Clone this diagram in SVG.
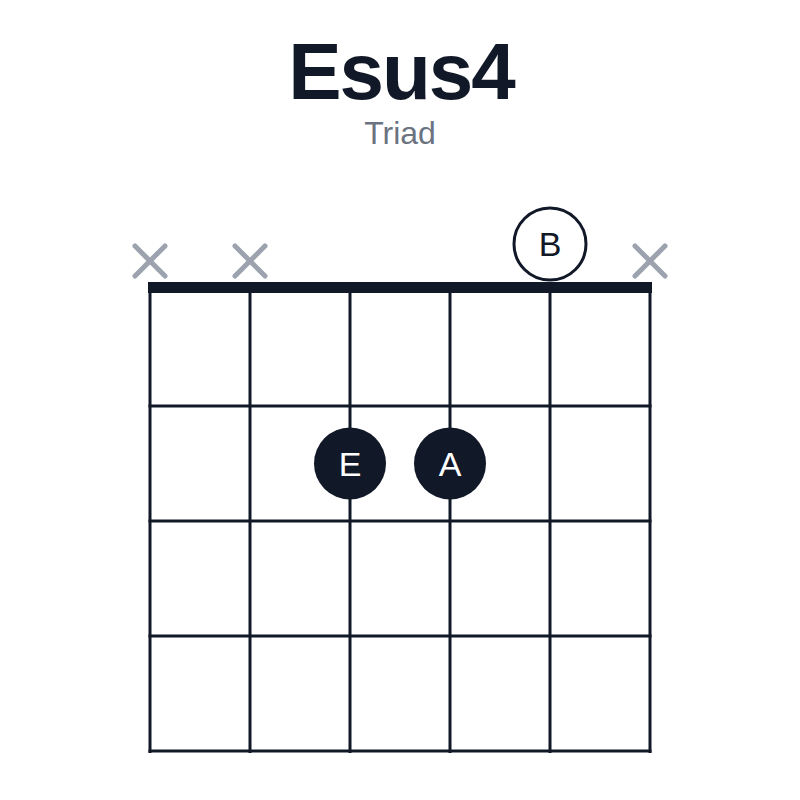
<svg xmlns="http://www.w3.org/2000/svg" width="800" height="800" viewBox="0 0 800 800">
<style>
.title{font-family:"Liberation Sans",Arial,sans-serif;font-weight:bold;font-size:80px;fill:#111827;letter-spacing:-2px}
.sub{font-family:"Liberation Sans",Arial,sans-serif;font-size:32px;fill:#6b7280}
.str{stroke:#111827;stroke-width:3}
.x{stroke:#9ca3af;stroke-width:5;stroke-linecap:round}
.lbl{font-family:"Liberation Sans",Arial,sans-serif;font-size:34px;text-anchor:middle}
</style>
<rect width="800" height="800" fill="#ffffff"/>
<text class="title" x="401" y="99" text-anchor="middle">Esus4</text>
<text class="sub" x="400" y="144" text-anchor="middle">Triad</text>
<g id="grid">
<rect x="148" y="282" width="504" height="11" fill="#111827"/>
<line class="str" x1="150" y1="287" x2="150" y2="753"/>
<line class="str" x1="250" y1="287" x2="250" y2="753"/>
<line class="str" x1="350" y1="287" x2="350" y2="753"/>
<line class="str" x1="450" y1="287" x2="450" y2="753"/>
<line class="str" x1="550" y1="287" x2="550" y2="753"/>
<line class="str" x1="650" y1="287" x2="650" y2="753"/>
<line class="str" x1="148.5" y1="406" x2="651.5" y2="406"/>
<line class="str" x1="148.5" y1="521" x2="651.5" y2="521"/>
<line class="str" x1="148.5" y1="636" x2="651.5" y2="636"/>
<line class="str" x1="148.5" y1="751" x2="651.5" y2="751"/>
</g>
<g id="mute1"><line class="x" x1="135" y1="246" x2="165" y2="276"/><line class="x" x1="165" y1="246" x2="135" y2="276"/></g>
<g id="mute2"><line class="x" x1="235" y1="246" x2="265" y2="276"/><line class="x" x1="265" y1="246" x2="235" y2="276"/></g>
<g id="mute6"><line class="x" x1="635" y1="246" x2="665" y2="276"/><line class="x" x1="665" y1="246" x2="635" y2="276"/></g>
<g id="openB"><circle cx="550" cy="244" r="36" fill="#ffffff" stroke="#111827" stroke-width="3"/><text class="lbl" x="550" y="256" fill="#111827">B</text></g>
<g id="noteE"><circle cx="350" cy="463.5" r="36" fill="#111827"/><text class="lbl" x="350" y="476" fill="#ffffff">E</text></g>
<g id="noteA"><circle cx="450" cy="463.5" r="36" fill="#111827"/><text class="lbl" x="450" y="476" fill="#ffffff">A</text></g>
</svg>
